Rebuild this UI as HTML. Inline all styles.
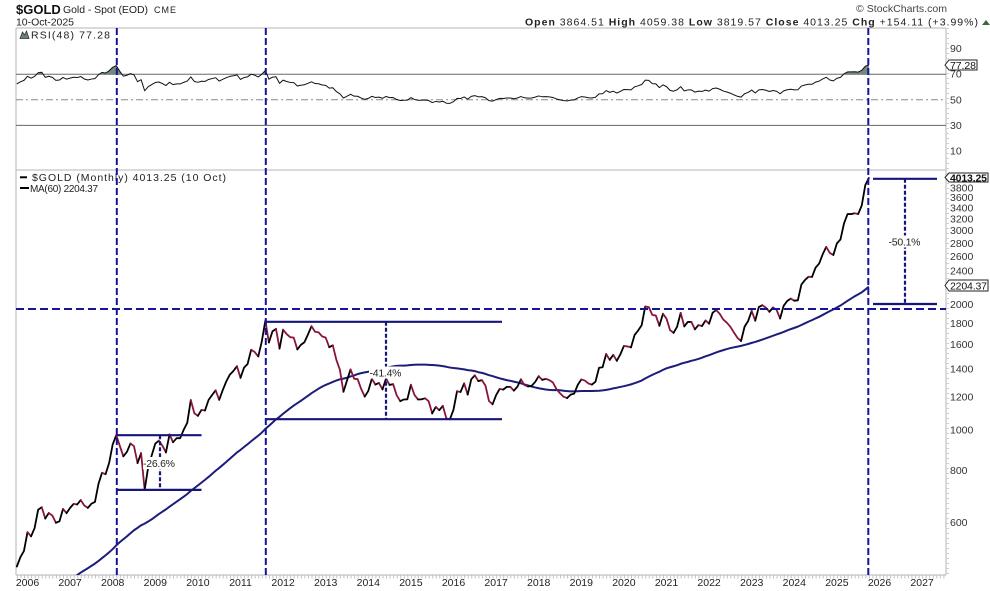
<!DOCTYPE html>
<html><head><meta charset="utf-8">
<style>
html,body{margin:0;padding:0;background:#fff;}
svg{display:block;font-family:"Liberation Sans",Arial,sans-serif;}
</style></head>
<body>
<svg id="c" width="990" height="591" viewBox="0 0 990 591" xmlns="http://www.w3.org/2000/svg">
<defs>
<clipPath id="cm"><rect x="16" y="170" width="930" height="405"/></clipPath>
<clipPath id="cr"><rect x="16" y="28" width="930" height="142"/></clipPath>
<clipPath id="c70"><rect x="16" y="28" width="930" height="46.2"/></clipPath>
</defs>

<!-- header -->
<text x="16" y="14" font-size="13" font-weight="bold" fill="#111">$GOLD</text>
<text x="63" y="13" font-size="10.5" fill="#222" textLength="85">Gold - Spot (EOD)</text>
<text x="154" y="13" font-size="9" fill="#222" textLength="22">CME</text>
<text x="16" y="25.5" font-size="10.5" fill="#222" textLength="58">10-Oct-2025</text>
<text x="856" y="12" font-size="10.5" fill="#444" textLength="91">© StockCharts.com</text>
<text x="525" y="25.5" font-size="10.5" fill="#222" textLength="453"><tspan font-weight="bold">Open</tspan> 3864.51  <tspan font-weight="bold">High</tspan> 4059.38  <tspan font-weight="bold">Low</tspan> 3819.57  <tspan font-weight="bold">Close</tspan> 4013.25  <tspan font-weight="bold">Chg</tspan> +154.11 (+3.99%)</text>
<polygon points="982,25 986,20 990,25" fill="#3a6a3a"/>

<!-- frames -->
<line x1="16" y1="28" x2="946" y2="28" stroke="#b4b4b4" stroke-width="1"/>
<line x1="16" y1="170" x2="946" y2="170" stroke="#b4b4b4" stroke-width="1"/>
<line x1="16" y1="575" x2="946" y2="575" stroke="#b4b4b4" stroke-width="1"/>
<line x1="16" y1="28" x2="16" y2="575" stroke="#b4b4b4" stroke-width="1"/>
<line x1="946" y1="28" x2="946" y2="575" stroke="#b4b4b4" stroke-width="1"/>
<line x1="16.85" y1="577" x2="946" y2="577" stroke="#c4c4c4" stroke-width="3" stroke-dasharray="1 2.55"/>
<line x1="947.5" y1="28" x2="947.5" y2="575" stroke="#cfcfcf" stroke-width="3" stroke-dasharray="1 4"/>

<!-- RSI guides -->
<line x1="16" y1="74.2" x2="946" y2="74.2" stroke="#666" stroke-width="1"/>
<line x1="16" y1="125.4" x2="946" y2="125.4" stroke="#666" stroke-width="1"/>
<line x1="16" y1="99.8" x2="946" y2="99.8" stroke="#888" stroke-width="1" stroke-dasharray="7 3 2 3"/>

<!-- RSI axis labels -->
<g font-size="10.5" fill="#333">
<text x="950" y="52">90</text>
<text x="950" y="77.7">70</text>
<text x="950" y="103.3">50</text>
<text x="950" y="128.9">30</text>
<text x="950" y="154.5">10</text>
</g>

<!-- price axis labels -->
<g font-size="10.5" fill="#333">
<text x="950" y="191.3">3800</text>
<text x="950" y="201.2">3600</text>
<text x="950" y="211.6">3400</text>
<text x="950" y="222.5">3200</text>
<text x="950" y="234.2">3000</text>
<text x="950" y="246.8">2800</text>
<text x="950" y="260.2">2600</text>
<text x="950" y="274.7">2400</text>
<text x="950" y="307.8">2000</text>
<text x="950" y="326.9">1800</text>
<text x="950" y="348.2">1600</text>
<text x="950" y="372.5">1400</text>
<text x="950" y="400.4">1200</text>
<text x="950" y="433.4">1000</text>
<text x="950" y="473.9">800</text>
<text x="950" y="526">600</text>
</g>

<!-- year labels -->
<g font-size="10.5" fill="#222" text-anchor="middle">
<text x="27.5" y="586">2006</text>
<text x="70.1" y="586">2007</text>
<text x="112.7" y="586">2008</text>
<text x="155.3" y="586">2009</text>
<text x="197.9" y="586">2010</text>
<text x="240.5" y="586">2011</text>
<text x="283.1" y="586">2012</text>
<text x="325.7" y="586">2013</text>
<text x="368.3" y="586">2014</text>
<text x="410.9" y="586">2015</text>
<text x="453.5" y="586">2016</text>
<text x="496.1" y="586">2017</text>
<text x="538.7" y="586">2018</text>
<text x="581.3" y="586">2019</text>
<text x="623.9" y="586">2020</text>
<text x="666.5" y="586">2021</text>
<text x="709.1" y="586">2022</text>
<text x="751.7" y="586">2023</text>
<text x="794.3" y="586">2024</text>
<text x="836.9" y="586">2025</text>
<text x="879.5" y="586">2026</text>
<text x="922.1" y="586">2027</text>
</g>

<!-- legends -->
<polygon points="20,38.5 22.5,32 24.5,35 26.5,31 29,38.5" fill="#6e8070" stroke="#333" stroke-width="0.8"/>
<text x="31" y="38.3" font-size="10.5" fill="#222" textLength="79">RSI(48) 77.28</text>
<line x1="20" y1="177.3" x2="27" y2="177.3" stroke="#000" stroke-width="2"/>
<text x="32" y="180.8" font-size="10.5" fill="#222" textLength="194">$GOLD (Monthly) 4013.25 (10 Oct)</text>
<line x1="20" y1="188" x2="29" y2="188" stroke="#000" stroke-width="2"/>
<text x="30" y="191.8" font-size="10" fill="#222" textLength="68">MA(60) 2204.37</text>

<!-- dynamic series -->
<g id="g"></g>

<!-- annotations -->
<g stroke="#14149a" stroke-width="2" fill="none">
<line x1="116.8" y1="28" x2="116.8" y2="575" stroke-dasharray="7 3"/>
<line x1="265.8" y1="28" x2="265.8" y2="575" stroke-dasharray="7 3"/>
<line x1="868.3" y1="28" x2="868.3" y2="575" stroke-dasharray="7 3"/>
<line x1="16" y1="309" x2="946" y2="309" stroke-dasharray="8 4"/>
</g>
<g stroke="#16167a" stroke-width="2.2" fill="none">
<line x1="116.8" y1="435.2" x2="201.5" y2="435.2"/>
<line x1="116.8" y1="489.9" x2="201.5" y2="489.9"/>
<line x1="160" y1="435.2" x2="160" y2="489.9" stroke-dasharray="4 2"/>
<line x1="265.8" y1="321.8" x2="502" y2="321.8"/>
<line x1="265.8" y1="419.2" x2="502" y2="419.2"/>
<line x1="386" y1="321.8" x2="386" y2="419.2" stroke-dasharray="4 2"/>
<line x1="873" y1="178.8" x2="937" y2="178.8"/>
<line x1="873" y1="304" x2="937" y2="304"/>
<line x1="905" y1="178.8" x2="905" y2="304" stroke-dasharray="4 2"/>
</g>
<rect x="143" y="457" width="32" height="12" fill="#fff"/>
<text x="143" y="467" font-size="10.5" fill="#222" textLength="32">-26.6%</text>
<rect x="369" y="366.5" width="33" height="12" fill="#fff"/>
<text x="369.5" y="376.5" font-size="10.5" fill="#222" textLength="32">-41.4%</text>
<rect x="888" y="235.5" width="33" height="12" fill="#fff"/>
<text x="888.5" y="245.5" font-size="10.5" fill="#222" textLength="32">-50.1%</text>

<!-- value boxes -->
<polygon points="945,65 949,60 977,60 977,70 949,70" fill="#fff" stroke="#222" stroke-width="1"/>
<text x="950" y="68.8" font-size="10.5" fill="#111" textLength="26">77.28</text>
<polygon points="945,177.5 949,173 988,173 988,182 949,182" fill="#fff" stroke="#222" stroke-width="1"/>
<text x="950" y="181.5" font-size="10.5" font-weight="bold" fill="#111" textLength="37">4013.25</text>
<polygon points="945,285.5 949,280 988,280 988,291 949,291" fill="#fff" stroke="#222" stroke-width="1"/>
<text x="950" y="289.5" font-size="10.5" fill="#111" textLength="37">2204.37</text>
</svg>
<script>
(function(){
var P=[
283.3,293.7,278.4,273.6,272.3,288.2,276.8,277.0,273.7,264.5,269.1,272.7,
265.6,266.7,257.7,263.2,267.5,270.6,265.9,273.0,293.1,278.8,275.5,276.5,
282.3,296.9,301.4,308.2,326.6,318.5,304.7,312.8,323.7,316.9,319.1,347.2,
367.5,347.5,334.9,336.8,361.4,346.0,354.8,375.6,388.0,386.3,398.4,416.3,
399.8,395.9,427.5,388.5,393.3,395.8,391.4,407.3,415.7,428.4,453.4,438.0,
422.2,435.5,428.5,435.5,414.5,437.1,429.0,433.3,473.3,470.8,495.7,513.0,
568.8,556.0,582.0,644.0,653.0,613.5,632.5,623.5,599.3,604.0,646.7,632.0,
650.5,665.0,663.0,679.0,659.1,650.5,665.5,672.0,743.0,789.5,783.5,833.8,
923.3,971.5,916.2,864.5,885.8,928.3,914.0,833.0,880.0,718.5,814.5,869.8,
927.3,942.0,916.5,883.3,975.5,934.5,955.5,955.5,1001.0,1040.0,1179.0,1096.5,
1081.0,1116.5,1113.3,1179.3,1212.5,1244.0,1181.0,1246.0,1307.0,1357.0,1384.0,1421.0,
1333.0,1410.0,1439.0,1556.0,1536.5,1500.0,1628.5,1828.0,1620.0,1722.0,1746.0,1565.8,
1738.0,1696.3,1668.0,1664.0,1559.0,1598.5,1622.0,1692.5,1772.0,1719.0,1712.5,1675.0,
1663.5,1578.5,1595.0,1472.5,1393.0,1234.5,1313.0,1396.0,1326.5,1323.0,1253.0,1202.0,
1240.0,1326.5,1284.0,1296.0,1250.5,1327.0,1282.0,1287.0,1210.5,1172.0,1182.8,1184.0,
1283.0,1213.0,1183.0,1184.0,1190.5,1172.0,1095.0,1135.0,1115.0,1142.0,1065.0,1061.0,
1118.0,1238.0,1233.0,1293.0,1215.0,1322.0,1351.0,1309.0,1316.0,1277.0,1173.0,1152.0,
1211.0,1254.0,1249.0,1268.0,1268.0,1242.0,1269.0,1322.0,1280.0,1271.0,1275.0,1303.0,
1345.0,1318.0,1325.0,1316.0,1299.0,1253.0,1224.0,1201.0,1192.0,1215.0,1222.0,1282.0,
1321.0,1313.0,1292.0,1284.0,1305.0,1409.0,1413.0,1520.0,1472.0,1513.0,1464.0,1517.0,
1589.0,1585.0,1577.0,1687.0,1730.0,1781.0,1975.0,1968.0,1886.0,1879.0,1776.0,1898.0,
1847.0,1734.0,1708.0,1769.0,1907.0,1770.0,1814.0,1814.0,1742.0,1783.0,1774.0,1829.0,
1797.0,1909.0,1937.0,1897.0,1838.0,1807.0,1766.0,1711.0,1661.0,1633.0,1768.0,1824.0,
1928.0,1827.0,1969.0,1990.0,1962.0,1919.0,1965.0,1940.0,1849.0,1983.0,2036.0,2063.0,
2040.0,2044.0,2230.0,2286.0,2327.0,2326.0,2448.0,2503.0,2635.0,2744.0,2654.0,2625.0,
2798.0,2858.0,3124.0,3289.0,3289.0,3303.0,3290.0,3448.0,3858.0,4013.25];
var N=P.length,s=69;
function X(i){return 16.85+(i-s)*3.55;}
function Y(p){return 1682.3-181.3*Math.log(p);}
function YR(r){return 151-(r-10)*1.28;}
var ns='http://www.w3.org/2000/svg',g=document.getElementById('g');
function el(t,a){var e=document.createElementNS(ns,t);for(var k in a)e.setAttribute(k,a[k]);g.appendChild(e);return e;}
/* RSI 48 */
var ag=0,al=0,i,d;
for(i=1;i<=48;i++){d=P[i]-P[i-1];if(d>0)ag+=d;else al-=d;}
ag/=48;al/=48;
var R=[];R[48]=100-100/(1+ag/al);
for(i=49;i<N;i++){d=P[i]-P[i-1];ag=(ag*47+(d>0?d:0))/48;al=(al*47+(d<0?-d:0))/48;R[i]=100-100/(1+ag/al);}
var pts='';
for(i=s;i<N;i++){pts+='L'+X(i).toFixed(2)+','+YR(R[i]).toFixed(2);}
el('path',{d:'M'+X(s).toFixed(2)+','+YR(70)+pts+'L'+X(N-1).toFixed(2)+','+YR(70)+'Z',fill:'#76887c','clip-path':'url(#c70)'});
el('path',{d:'M'+pts.slice(1),fill:'none',stroke:'#111','stroke-width':1,'stroke-linejoin':'round','clip-path':'url(#cr)'});
/* MA 60 */
var mp='';
for(i=s;i<N;i++){var sm=0;for(var k=i-59;k<=i;k++)sm+=P[k];mp+=(i==s?'M':'L')+X(i).toFixed(2)+','+Y(sm/60).toFixed(2);}
el('path',{d:mp,fill:'none',stroke:'#1c1c7a','stroke-width':2,'stroke-linejoin':'round','clip-path':'url(#cm)'});
/* price, colored by direction */
var cur=null,dd='';
function flush(){if(dd)el('path',{d:dd,fill:'none',stroke:cur,'stroke-width':1.8,'stroke-linejoin':'round','stroke-linecap':'round','clip-path':'url(#cm)'});}
for(i=s+1;i<N;i++){
 var c=(P[i]>=P[i-1])?'#000':'#8a1538';
 if(c!==cur){flush();cur=c;dd='M'+X(i-1).toFixed(2)+','+Y(P[i-1]).toFixed(2);}
 dd+='L'+X(i).toFixed(2)+','+Y(P[i]).toFixed(2);
}
flush();
})();
</script>
</body></html>
